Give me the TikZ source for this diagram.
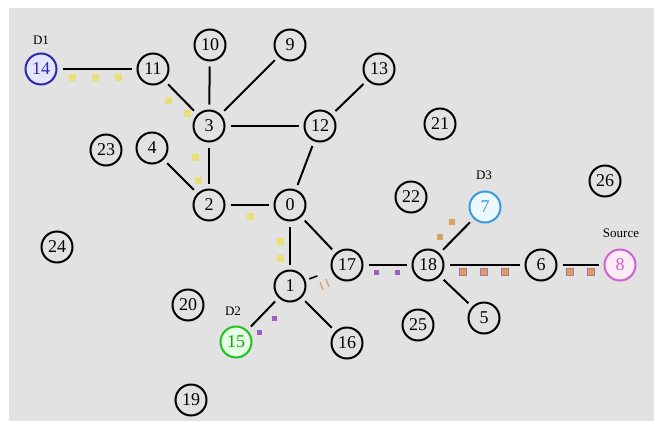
\documentclass[tikz,border=0pt]{standalone}
\usepackage{fontspec}
\setmainfont{Liberation Serif}
\definecolor{bgc}{HTML}{E2E2E2}
\definecolor{pyel}{HTML}{E8DF78}
\definecolor{ppur}{HTML}{9A60C2}
\definecolor{pora}{HTML}{D9A060}
\definecolor{dblue}{HTML}{2A2AB0}
\definecolor{lblue}{HTML}{3A9AE0}
\definecolor{dgreen}{HTML}{22C022}
\definecolor{dmag}{HTML}{D060D0}
\tikzset{
  x=1pt,y=-1pt,
  nd/.style={circle,draw=black,line width=2pt,minimum size=31pt,inner sep=0pt,font=\fontsize{18}{18}\selectfont},
  lbl/.style={font=\fontsize{13}{13}\selectfont,inner sep=0pt},
  ed/.style={line width=2pt,shorten <=5pt,shorten >=5pt},
  ysq/.style={fill=pyel,minimum size=7pt,inner sep=0pt,rectangle},
  psq/.style={fill=ppur,minimum size=5pt,inner sep=0pt,rectangle},
  osq/.style={fill=pora,draw=ppur!70!pora,line width=1.2pt,minimum size=7pt,inner sep=0pt,rectangle},
  oosq/.style={fill=pora,minimum size=6pt,inner sep=0pt,rectangle}
}
\begin{document}
\begin{tikzpicture}
\useasboundingbox (0,0) rectangle (654,421);
\fill[white] (0,0) rectangle (654,421);
\fill[bgc] (9,8) rectangle (654,421);
% packet markers
\foreach \p in {(72,77),(95,77),(118,77),(168,100),(187,113),(195,157),(198,180),(250,216),(280,241),(280,258)}
  \node[ysq] at \p {};
\foreach \p in {(376,272),(397,272),(274,318),(259,332)}
  \node[psq] at \p {};
\foreach \p in {(463,272),(484,272),(505,272),(570,272),(591,272)}
  \node[osq] at \p {};
\foreach \p in {(452,222),(440,237)}
  \node[oosq] at \p {};
% nodes
\node[nd,draw=dblue,fill=blue!10,text=dblue] (n14) at (41,69) {14};
\node[lbl] (d1) at (41,40) {D1};
\node[nd] (n11) at (153,69) {11};
\node[nd] (n10) at (210,45) {10};
\node[nd] (n9) at (290,45) {9};
\node[nd] (n3) at (209,126) {3};
\node[nd] (n12) at (320,126) {12};
\node[nd] (n13) at (379,69) {13};
\node[nd] (n21) at (440,124) {21};
\node[nd] (n23) at (106,150) {23};
\node[nd] (n4) at (152,148) {4};
\node[nd] (n2) at (209,205) {2};
\node[nd] (n0) at (290,205) {0};
\node[nd] (n22) at (411,197) {22};
\node[nd,draw=lblue,fill=cyan!8,text=lblue] (n7) at (485,207) {7};
\node[lbl] (d3) at (484,175) {D3};
\node[nd] (n26) at (605,181) {26};
\node[nd] (n24) at (57,247) {24};
\node[nd] (n17) at (347,265) {17};
\node[nd] (n18) at (428,265) {18};
\node[nd] (n6) at (541,265) {6};
\node[nd,draw=dmag,fill=magenta!8,text=dmag] (n8) at (620,265) {8};
\node[lbl] (src) at (621,233) {Source};
\node[nd] (n1) at (290,286) {1};
\node[nd] (n20) at (188,305) {20};
\node[nd,draw=dgreen,fill=green!10,text=dgreen!80!black] (n15) at (236,342) {15};
\node[lbl] (d2) at (233,311) {D2};
\node[nd] (n25) at (418,325) {25};
\node[nd] (n5) at (484,318) {5};
\node[nd] (n16) at (347,343) {16};
\node[nd] (n19) at (191,400) {19};
% small orange marks on 1-17
\draw[pora,line width=1.2pt] (320,282) -- (323,290);
\draw[pora,line width=1.2pt] (326,279) -- (329,287);
% edges
\draw[ed] (n14) -- (n11);
\draw[ed] (n11) -- (n3);
\draw[ed] (n10) -- (n3);
\draw[ed] (n9) -- (n3);
\draw[ed] (n3) -- (n12);
\draw[ed] (n3) -- (n2);
\draw[ed] (n4) -- (n2);
\draw[ed] (n2) -- (n0);
\draw[ed] (n12) -- (n0);
\draw[ed] (n13) -- (n12);
\draw[ed] (n0) -- (n1);
\draw[ed] (n0) -- (n17);
\draw[ed,line width=1.6pt,shorten <=4pt,shorten >=15pt] (n1) -- (n17);
\draw[ed] (n17) -- (n18);
\draw[ed] (n18) -- (n7);
\draw[ed] (n18) -- (n6);
\draw[ed] (n18) -- (n5);
\draw[ed] (n6) -- (n8);
\draw[ed] (n1) -- (n15);
\draw[ed] (n1) -- (n16);
\end{tikzpicture}
\end{document}
